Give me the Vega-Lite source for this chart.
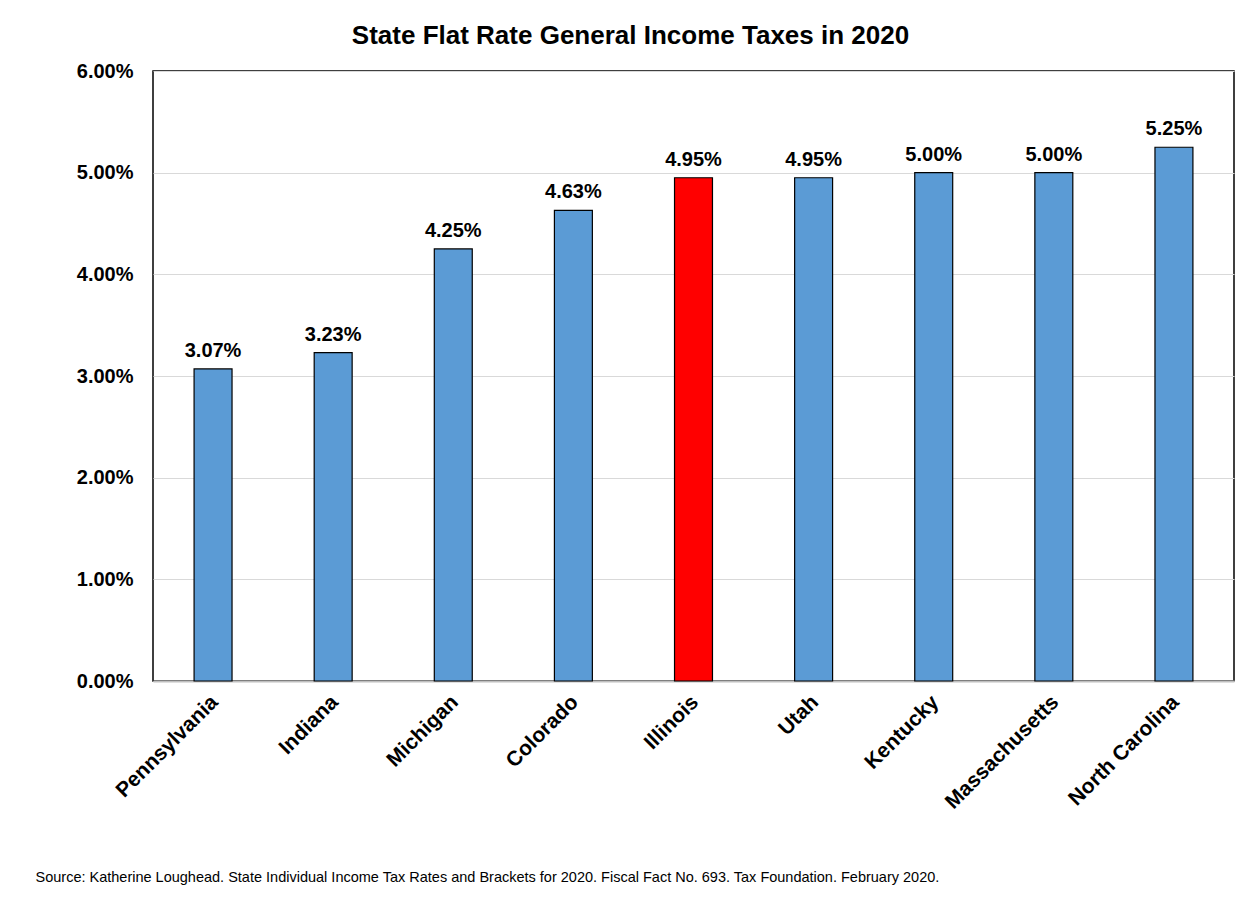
{
  "$schema": "https://vega.github.io/schema/vega-lite/v6.json",
  "autosize": "none",
  "width": 1081,
  "height": 610,
  "padding": {"left": 153, "top": 71, "right": 16, "bottom": 222},
  "background": "white",
  "config": {
    "font": "Liberation Sans",
    "view": {"stroke": "#000000", "strokeWidth": 1.5}
  },
  "title": {
    "text": "State Flat Rate General Income Taxes in 2020",
    "font": "Liberation Sans",
    "fontSize": 26,
    "fontWeight": "bold",
    "color": "#000000",
    "anchor": "middle",
    "dx": -63,
    "offset": 12
  },
  "data": {
    "values": [
      {"state": "Pennsylvania", "rate": 0.0307, "highlight": "no"},
      {"state": "Indiana", "rate": 0.0323, "highlight": "no"},
      {"state": "Michigan", "rate": 0.0425, "highlight": "no"},
      {"state": "Colorado", "rate": 0.0463, "highlight": "no"},
      {"state": "Illinois", "rate": 0.0495, "highlight": "yes"},
      {"state": "Utah", "rate": 0.0495, "highlight": "no"},
      {"state": "Kentucky", "rate": 0.05, "highlight": "no"},
      {"state": "Massachusetts", "rate": 0.05, "highlight": "no"},
      {"state": "North Carolina", "rate": 0.0525, "highlight": "no"}
    ]
  },
  "encoding": {
    "x": {
      "field": "state",
      "type": "nominal",
      "sort": null,
      "scale": {"paddingInner": 0.684, "paddingOuter": 0.342},
      "axis": {
        "title": "Source: Katherine Loughead. State Individual Income Tax Rates and Brackets for 2020. Fiscal Fact No. 693. Tax Foundation. February 2020.",
        "titleFont": "Liberation Sans",
        "titleFontSize": 14.5,
        "titleFontWeight": "normal",
        "titleColor": "#000000",
        "titleAnchor": "start",
        "titleAlign": "left",
        "titleBaseline": "middle",
        "titleX": -118,
        "titleY": 196,
        "labelAngle": -45,
        "labelFontSize": 21,
        "labelFontWeight": "bold",
        "labelColor": "#000000",
        "labelPadding": 10,
        "labelOffset": -6,
        "ticks": false,
        "domainColor": "#bfbfbf",
        "domainWidth": 2
      }
    },
    "y": {
      "field": "rate",
      "type": "quantitative",
      "scale": {"domain": [0, 0.06]},
      "axis": {
        "title": null,
        "format": ".2%",
        "values": [0, 0.01, 0.02, 0.03, 0.04, 0.05, 0.06],
        "labelFontSize": 20,
        "labelFontWeight": "bold",
        "labelColor": "#000000",
        "labelPadding": 20,
        "ticks": false,
        "domain": false,
        "gridColor": "#d9d9d9",
        "gridWidth": 1.2
      }
    }
  },
  "layer": [
    {
      "mark": {"type": "bar", "stroke": "#000000", "strokeWidth": 1.2},
      "encoding": {
        "color": {
          "field": "highlight",
          "type": "nominal",
          "scale": {"domain": ["no", "yes"], "range": ["#5b9bd5", "#ff0000"]},
          "legend": null
        }
      }
    },
    {
      "mark": {"type": "text", "baseline": "alphabetic", "dy": -12, "fontSize": 20, "fontWeight": "bold", "color": "#000000"},
      "encoding": {
        "text": {"field": "rate", "type": "quantitative", "format": ".2%"}
      }
    }
  ]
}
